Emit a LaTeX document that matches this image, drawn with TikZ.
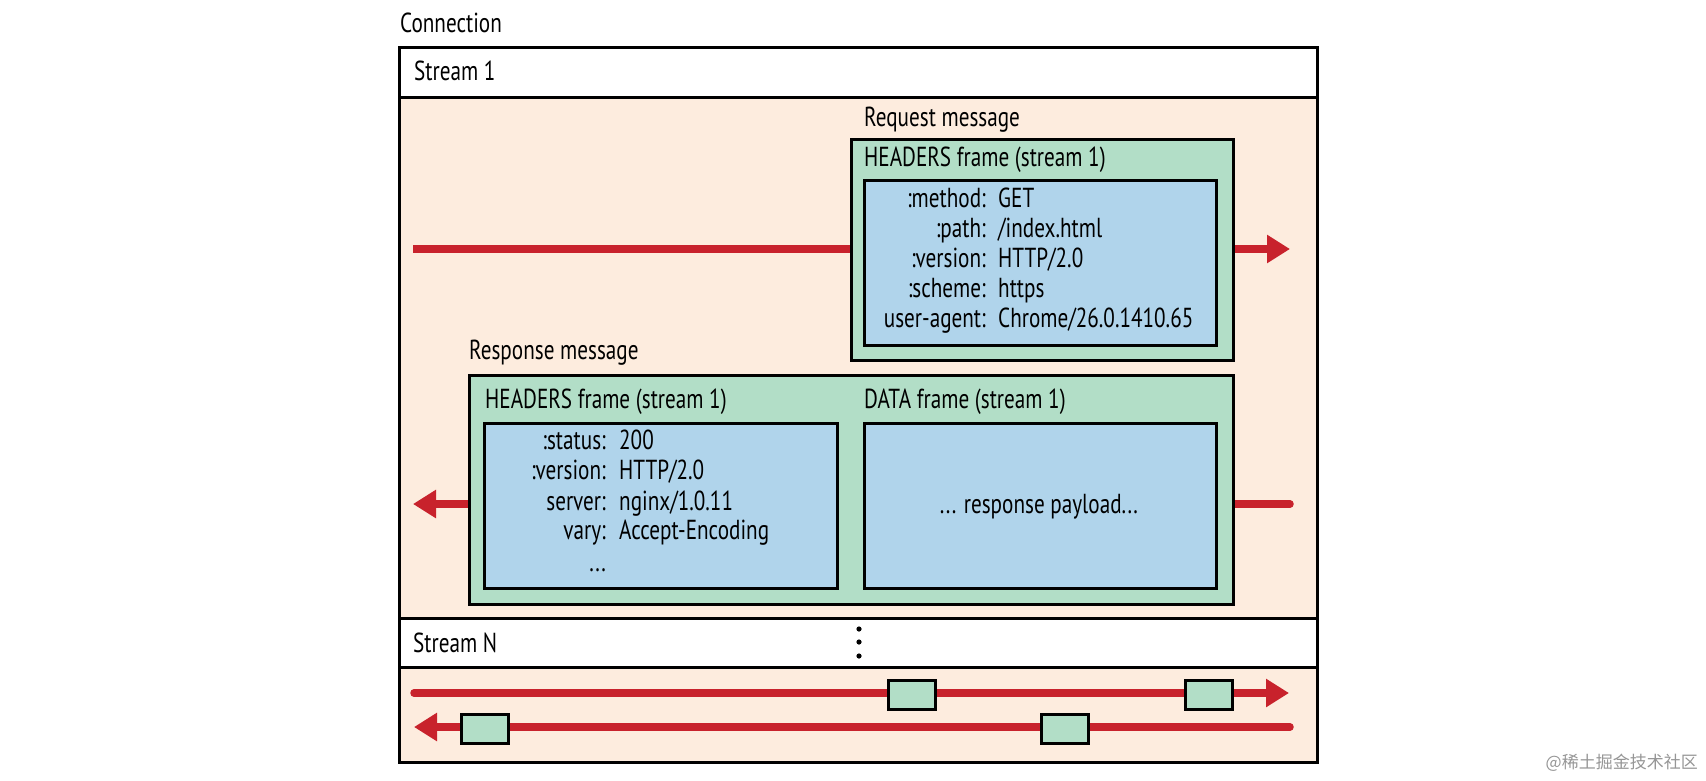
\documentclass[tikz,border=0pt]{standalone}
\usepackage{fontspec}
\setmainfont{PT Sans}[FakeStretch=0.77]
\newfontfamily\cjk{Noto Sans CJK SC}
\usetikzlibrary{arrows.meta}
\definecolor{peach}{RGB}{253,236,222}
\definecolor{mgreen}{RGB}{178,222,199}
\definecolor{mblue}{RGB}{176,212,235}
\definecolor{mred}{RGB}{200,34,44}
\definecolor{wmgray}{RGB}{150,150,150}
\tikzset{
  lbl/.style={anchor=base west, inner sep=0pt},
  keytxt/.style={anchor=base east, inner sep=0pt},
  valtxt/.style={anchor=base west, inner sep=0pt},
  framebox/.style={draw=black, line width=3pt, anchor=north west, inner sep=0pt},
  greenbox/.style={framebox, fill=mgreen},
  bluebox/.style={framebox, fill=mblue},
  sq/.style={framebox, fill=mgreen, minimum width=47pt, minimum height=29pt},
  redline/.style={draw=mred, line width=7.5pt, line cap=round},
  redarrow/.style={draw=mred, line width=7.5pt, -{Triangle[length=23pt,width=27pt]}},
  bandline/.style={draw=black, line width=3pt}
}
\begin{document}
\begin{tikzpicture}[x=1pt,y=-1pt,font=\fontsize{27.5}{30}\selectfont]
\useasboundingbox[fill=white] (0,0) rectangle (1706,780);

% connection frame
\fill[peach] (399,97) rectangle (1317,618);
\fill[peach] (399,667) rectangle (1317,762);
\draw[bandline] (399,47) rectangle (1317,762);
\draw[bandline] (399,97) -- (1317,97);
\draw[bandline] (399,618) -- (1317,618);
\draw[bandline] (399,667) -- (1317,667);

\node[lbl] (conn) at (400,32) {Connection};
\node[lbl] (s1) at (414,80) {Stream 1};
\node[lbl] (sN) at (413,652) {Stream N};

% request arrow
\coordinate (ra1) at (413,249);
\coordinate (ra2) at (1290,249);
\draw[redarrow] (ra1) -- (ra2);

\node[lbl] (reqlbl) at (864,126) {Request message};
\node[greenbox, minimum width=382pt, minimum height=221pt] (req) at (850,138) {};
\node[lbl] (reqhd) at (864,166) {HEADERS frame (stream 1)};
\node[bluebox, minimum width=352pt, minimum height=165pt] (reqb) at (863,179) {};
\node[keytxt] (k1) at (986,207) {:method:};      \node[valtxt] (v1) at (998,207) {GET};
\node[keytxt] (k2) at (986,237) {:path:};        \node[valtxt] (v2) at (998,237) {/index.html};
\node[keytxt] (k3) at (986,267) {:version:};     \node[valtxt] (v3) at (998,267) {HTTP/2.0};
\node[keytxt] (k4) at (986,297) {:scheme:};      \node[valtxt] (v4) at (998,297) {https};
\node[keytxt] (k5) at (986,327) {user-agent:};   \node[valtxt] (v5) at (998,327) {Chrome/26.0.1410.65};

% response arrow
\coordinate (pa1) at (1290,504);
\coordinate (pa2) at (413,504);
\draw[redline] (pa1) -- (1200,504);
\draw[redarrow] (620,504) -- (pa2);

\node[lbl] (reslbl) at (469,359) {Response message};
\node[greenbox, minimum width=764pt, minimum height=229pt] (res) at (468,374) {};
\node[lbl] (reshd) at (485,408) {HEADERS frame (stream 1)};
\node[lbl] (datahd) at (864,408) {DATA frame (stream 1)};
\node[bluebox, minimum width=353pt, minimum height=165pt] (resb) at (483,422) {};
\node[bluebox, minimum width=352pt, minimum height=165pt] (datab) at (863,422) {};
\node[keytxt] (r1) at (606,449) {:status:};      \node[valtxt] (w1) at (619,449) {200};
\node[keytxt] (r2) at (606,479) {:version:};     \node[valtxt] (w2) at (619,479) {HTTP/2.0};
\node[keytxt] (r3) at (606,510) {server:};       \node[valtxt] (w3) at (619,510) {nginx/1.0.11};
\node[keytxt] (r4) at (606,539) {vary:};         \node[valtxt] (w4) at (619,539) {Accept-Encoding};
\node[keytxt] (r5) at (606,571) {...};
\node[anchor=base, inner sep=0pt] (payload) at (1039,513) {... response payload...};

% stream N dots
\fill (859,629) circle (2.6);
\fill (859,642) circle (2.6);
\fill (859,656) circle (2.6);

% stream N arrows
\coordinate (na1) at (414,693);
\coordinate (na2) at (1289,693);
\coordinate (nb1) at (1290,727);
\coordinate (nb2) at (414,727);
\draw[redarrow, line cap=round] (na1) -- (na2);
\draw[redarrow, line cap=round] (nb1) -- (nb2);
\node[sq] (q1) at (887,679) {};
\node[sq] (q2) at (1184,679) {};
\node[sq] (q3) at (460,713) {};
\node[sq] (q4) at (1040,713) {};

\node[anchor=base east, inner sep=0pt, text=wmgray, font=\cjk\fontsize{17}{17}\selectfont] (wm) at (1698,768) {@稀土掘金技术社区};
\end{tikzpicture}
\end{document}
